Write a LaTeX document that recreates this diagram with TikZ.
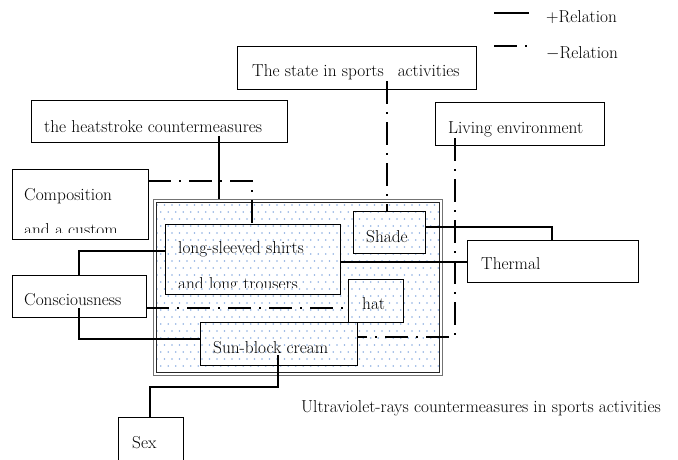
\documentclass[tikz,border=0pt]{standalone}
\usepackage{fontspec}
\usetikzlibrary{fit}
\definecolor{dotblue}{RGB}{140,175,225}
\begin{document}
\begin{tikzpicture}[x=1pt,y=-1pt,
  box/.style={draw=black, line width=0.9pt, inner sep=0pt},
  txt/.style={inner sep=0pt, anchor=base west, font=\fontsize{17.3}{20}\selectfont},
  plus/.style={line width=2.6pt},
  minus/.style={line width=2.6pt, dash pattern=on 23pt off 8pt on 2pt off 8pt}]
\useasboundingbox (0,0) rectangle (678,459);

% dotted region
\begin{scope}
  \clip (156,202) rectangle (439,372);
  \foreach \r in {0,...,25} {
    \foreach \c in {0,...,39} {
      \fill[dotblue] ({157+\c*7.5+mod(\r,2)*3.75},{205+\r*7}) circle[radius=0.85pt];
    }
  }
\end{scope}
\node[fit={(153,199) (442,375)}, inner sep=0pt, draw=black!55, line width=1pt] (region) {};
\node[fit={(156,202) (439,372)}, inner sep=0pt, draw=black!85, line width=0.8pt] (regin) {};

% boxes
\node[box, fit={(237,46) (476,89)}] (state) {};
\node[box, fit={(31,100) (287,142)}] (heat) {};
\node[box, fit={(435,102) (604,145)}] (living) {};
\node[box, fit={(12,169) (148,239)}] (comp) {};
\node[box, fit={(165,224) (340,294)}] (sleeve) {};
\node[box, fit={(353,211) (425,253)}] (shade) {};
\node[box, fit={(467,240) (638,282)}] (thermal) {};
\node[box, fit={(348,279) (403,322)}] (hat) {};
\node[box, fit={(12,275) (146,317)}] (consc) {};
\node[box, fit={(200,322) (357,365)}] (sun) {};
\node[box, fit={(118,417) (183,470)}] (sex) {};

% texts
\node[txt] (tstate) at (252,76) {The state in sports\hspace{14pt}activities};
\node[txt] (theat) at (44,132) {the heatstroke countermeasures};
\node[txt] (tliving) at (448,133) {Living environment};
\node[txt] (tcomp) at (24,200) {Composition};
\begin{scope}
  \clip (12,169) rectangle (148,232);
  \node[txt] (tcomp2) at (24,235) {and a custom};
\end{scope}
\node[txt] (tsleeve) at (178,253) {long-sleeved shirts};
\begin{scope}
  \clip (165,224) rectangle (340,287);
  \node[txt] (tsleeve2) at (178,289) {and long trousers};
\end{scope}
\node[txt] (tshade) at (366,242) {Shade};
\node[txt] (tthermal) at (481,269) {Thermal};
\node[txt] (that) at (362,309) {hat};
\node[txt] (tconsc) at (24,305) {Consciousness};
\node[txt] (tsun) at (213,353) {Sun-block cream};
\node[txt] (tsex) at (132,448) {Sex};
\node[txt] (caption) at (301,412) {Ultraviolet-rays countermeasures in sports activities};

% legend
\coordinate (lp1) at (494,13);
\coordinate (lp2) at (529,13);
\coordinate (lm1) at (494,46);
\coordinate (lm2) at (529,46);
\draw[plus] (lp1) -- (lp2);
\draw[minus] (lm1) -- (lm2);
\node[txt] (lplus) at (546,22) {$+$Relation};
\node[txt] (lminus) at (546,58) {$-$Relation};

% connectors
\coordinate (hs) at (219,136);
\draw[plus] (hs) -- (hs |- region.north);

\coordinate (cs) at (comp.east |- 0,181);
\draw[minus] (cs) -| (sleeve.north -| 252,0);

\coordinate (sl) at (sleeve.west |- 0,251);
\draw[plus] (sl) -| (consc.north -| 79,0);

\coordinate (cb) at (79,308);
\draw[plus] (cb) |- (sun.west |- 0,339);

\coordinate (ch) at (consc.east |- 0,308);
\draw[minus] (ch) -- (ch -| hat.west);

\coordinate (sb) at (278,355);
\draw[plus] (sb) -- (278,387) -| (sex.north -| 150,0);

\coordinate (st) at (sleeve.east |- 0,262);
\draw[plus] (st) -- (st -| thermal.west);

\coordinate (sh) at (shade.east |- 0,227);
\draw[plus] (sh) -| (thermal.north -| 552,0);

\coordinate (ss) at (387,81);
\draw[minus] (ss) -- (ss |- shade.north);

\coordinate (lv) at (455,138);
\draw[minus] (lv) |- (sun.east |- 0,337);
\end{tikzpicture}
\end{document}
